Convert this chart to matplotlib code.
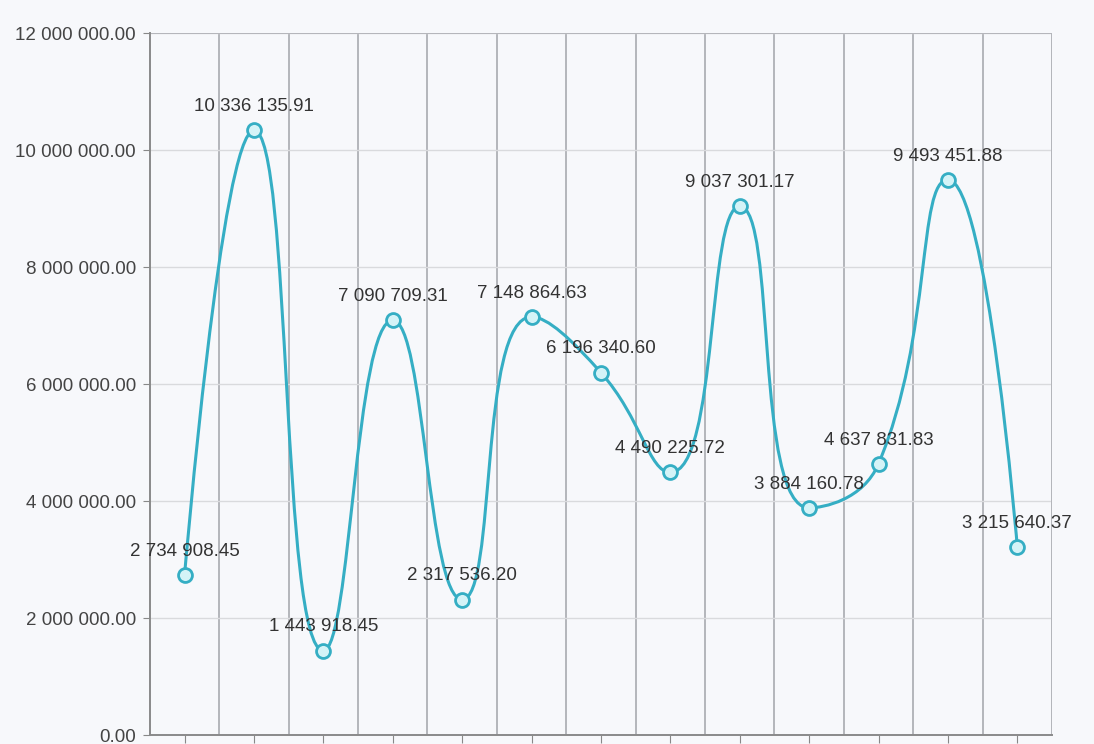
import numpy as np
import matplotlib
matplotlib.use("Agg")
import matplotlib.pyplot as plt
from matplotlib.path import Path
from matplotlib.patches import PathPatch
from matplotlib.ticker import FuncFormatter

plt.rcParams['font.family'] = ['Liberation Sans', 'DejaVu Sans']

values = [2734908.45, 10336135.91, 1443918.45, 7090709.31, 2317536.20,
          7148864.63, 6196340.60, 4490225.72, 9037301.17, 3884160.78,
          4637831.83, 9493451.88, 3215640.37]
y_ticks = [0, 2000000, 4000000, 6000000, 8000000, 10000000, 12000000]

bg = '#f7f8fb'
line_col = '#35aec4'

def fmt(v, pos=None):
    s = '{:,.2f}'.format(v)
    return s.replace(',', ' ')

fig = plt.figure(figsize=(10.94, 7.44), dpi=100, facecolor=bg)
ax = fig.add_axes([0.137, 0.012, 0.8246, 0.9435])
ax.set_facecolor(bg)

x = np.arange(len(values))
ax.set_xlim(-0.5, len(values) - 0.5)
ax.set_ylim(0, 12000000)

# grid
for xv in np.arange(-0.5, len(values), 1.0)[1:]:
    ax.axvline(xv, color='#b4b6bb', lw=1.4, zorder=1)
for yv in y_ticks[1:]:
    ax.axhline(yv, color='#d9dadd', lw=1.0, zorder=1)

# smooth curve, control points clamped so the curve never overshoots
fig.canvas.draw()
pts = ax.transData.transform(np.column_stack([x, values]))
smooth = 0.5
n = len(pts)
cp_in = [None] * n
cp_out = [None] * n
for i in range(n):
    p = pts[i]
    if i == 0 or i == n - 1:
        cp_in[i] = p.copy()
        cp_out[i] = p.copy()
        continue
    prev, nxt = pts[i - 1], pts[i + 1]
    v = nxt - prev
    lp = np.hypot(*(p - prev))
    ln = np.hypot(*(nxt - p))
    r = ln / (ln + lp)
    c1 = p + v * smooth * r
    c1 = np.minimum(c1, np.maximum(nxt, p))
    c1 = np.maximum(c1, np.minimum(nxt, p))
    d = c1 - p
    c0 = p - d * lp / ln
    c0 = np.minimum(c0, np.maximum(prev, p))
    c0 = np.maximum(c0, np.minimum(prev, p))
    d = p - c0
    c1 = p + d * ln / lp
    cp_in[i] = c0
    cp_out[i] = c1

verts = [pts[0]]
codes = [Path.MOVETO]
for i in range(n - 1):
    verts += [cp_out[i], cp_in[i + 1], pts[i + 1]]
    codes += [Path.CURVE4] * 3
path = Path(ax.transData.inverted().transform(np.array(verts)), codes)
ax.add_patch(PathPatch(path, fill=False, edgecolor=line_col, lw=2.2, zorder=3))

ax.plot(x, values, 'o', ms=10, mfc='#d4f3f7', mec=line_col, mew=2, zorder=4)

for xi, v in zip(x, values):
    ax.annotate(fmt(v), (xi, v), xytext=(0, 17), textcoords='offset points',
                ha='center', va='center', fontsize=13.5, color='#333333', zorder=5)

ax.set_yticks(y_ticks)
ax.yaxis.set_major_formatter(FuncFormatter(fmt))
ax.set_xticks(x)
ax.set_xticklabels([])
ax.tick_params(axis='y', length=5, color='#888888', labelcolor='#444444', labelsize=13.5, pad=5)
ax.tick_params(axis='x', length=6, color='#888888')
for s in ['top', 'right']:
    ax.spines[s].set_visible(False)
for s in ['left', 'bottom']:
    ax.spines[s].set_color('#8a8a8a')
    ax.spines[s].set_linewidth(1.4)
ax.axhline(12000000, color='#b4b6bb', lw=1.4, zorder=1)
ax.axvline(len(values) - 0.5, color='#b4b6bb', lw=1.4, zorder=1)

fig.savefig('out.png', dpi=100, facecolor=bg)
